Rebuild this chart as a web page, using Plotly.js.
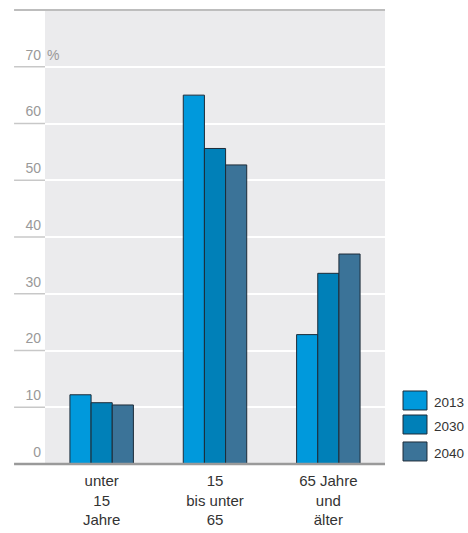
<!DOCTYPE html>
<html><head><meta charset="utf-8">
<script src="https://cdn.plot.ly/plotly-3.0.1.min.js"></script>
<style>html,body{margin:0;padding:0;background:#fff;}</style>
</head><body>
<div id="chart" style="width:468px;height:533px;"></div>
<script>
const categories = ["unter<br>15<br>Jahre", "15<br>bis unter<br>65", "65 Jahre<br>und<br>älter"];
const seriesNames = ["2013", "2030", "2040"];
const values2013 = [12.2, 65.0, 22.8];
const values2030 = [10.8, 55.6, 33.6];
const values2040 = [10.4, 52.7, 37.0];
const tickVals = [0, 10, 20, 30, 40, 50, 60, 70];
const tickText = ["0", "10", "20", "30", "40", "50", "60", "70"];

const colors = ["#0099DC", "#0080B8", "#3B7398"];
const font = "'Liberation Sans', Arial, sans-serif";
const allValues = [values2013, values2030, values2040];
const yMax = 80;

const traces = allValues.map((v, i) => ({
  type: "bar",
  name: seriesNames[i],
  x: categories,
  y: v,
  marker: {color: colors[i], line: {color: "#1d2b38", width: 1}},
  hoverinfo: "y",
  showlegend: false
}));

const stubX = -0.091;
const shapes = [];
// left stubs of gridlines (outside gray area)
tickVals.slice(1).forEach(t => shapes.push({
  type: "line", xref: "paper", yref: "paper", x0: stubX, x1: 0, y0: t / yMax, y1: t / yMax,
  line: {color: "#c8c8c8", width: 1.5}, layer: "above"
}));
// top line
shapes.push({type: "line", xref: "paper", yref: "paper", x0: stubX, x1: 1, y0: 1, y1: 1,
  line: {color: "#bdbdbd", width: 2}, layer: "above"});
// baseline
shapes.push({type: "line", xref: "paper", yref: "paper", x0: stubX, x1: 1, y0: 0, y1: 0,
  line: {color: "#9a9a9a", width: 2.5}, layer: "above"});

// custom legend (boxes + labels)
const annotations = [{
  xref: "paper", yref: "paper", x: 0, y: 70 / yMax, xanchor: "left", yanchor: "middle",
  xshift: 0, yshift: 12, text: "%", showarrow: false,
  font: {family: font, size: 14, color: "#999999"}
}];
const legTop = [0.1608, 0.1079, 0.0485];
const legH = 0.0418;
seriesNames.forEach((n, i) => {
  shapes.push({type: "rect", xref: "paper", yref: "paper",
    x0: 1.053, x1: 1.1235, y0: legTop[i] - legH, y1: legTop[i],
    fillcolor: colors[i], line: {color: "#1d2b38", width: 1}});
  annotations.push({xref: "paper", yref: "paper", x: 1.141, y: legTop[i] - legH / 2,
    xanchor: "left", yanchor: "middle", yshift: -2, text: n, showarrow: false,
    borderpad: 0,
    font: {family: font, size: 13.5, color: "#333"}});
});

const layout = {
  width: 468, height: 533,
  margin: {l: 45, r: 83, t: 10, b: 69, autoexpand: false},
  paper_bgcolor: "#ffffff",
  plot_bgcolor: "#EBEBED",
  barmode: "group",
  bargap: 0.44,
  bargroupgap: 0,
  font: {family: font, color: "#333", size: 14},
  xaxis: {
    type: "category",
    range: [-0.5, 2.5],
    showgrid: false, zeroline: false, showline: false,
    ticks: "", tickfont: {family: font, size: 15, color: "#333"},
    ticklabelstandoff: 6
  },
  yaxis: {
    range: [0, yMax],
    tickvals: tickVals, ticktext: tickText,
    showgrid: true, gridcolor: "#ffffff", gridwidth: 2,
    zeroline: false, showline: false, ticks: "",
    tickfont: {family: font, size: 14, color: "#999999"},
    ticklabelshift: -12,
    ticklabelstandoff: 3
  },
  showlegend: false,
  shapes: shapes,
  annotations: annotations
};

Plotly.newPlot("chart", traces, layout, {displayModeBar: false, staticPlot: true});
</script>
</body></html>
